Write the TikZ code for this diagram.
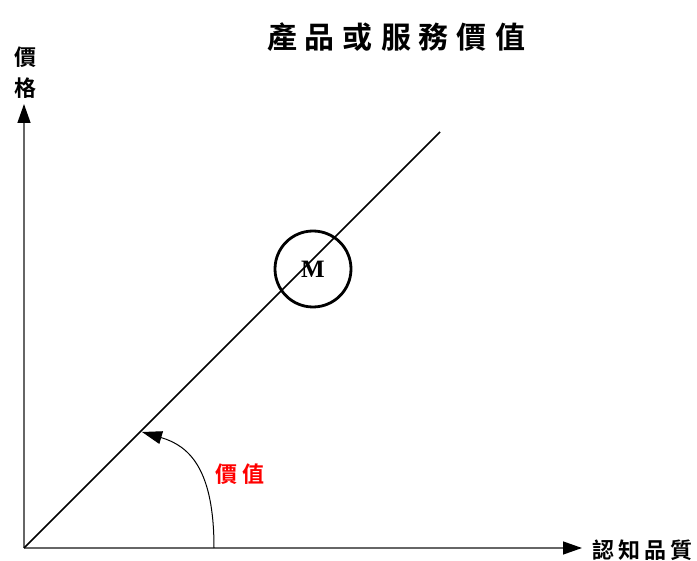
\documentclass[tikz,border=0pt]{standalone}
\usepackage{fontspec}
\setmainfont{Liberation Serif}
\newfontfamily\cjk{Noto Sans CJK TC}[BoldFont={* Bold}]
\usetikzlibrary{arrows.meta}
\tikzset{
  axis/.style={draw=black!60, line width=1.3pt, -{Triangle[length=19pt,width=13pt,color=black]}},
  cjklab/.style={font=\cjk\bfseries, inner sep=0pt},
}
\begin{document}
\begin{tikzpicture}[x=1pt,y=-1pt]
\useasboundingbox (0,0) rectangle (697,561);
\coordinate (O) at (24,548);
\coordinate (Y) at (24,104);
\coordinate (X) at (582,548);
\coordinate (D) at (440,132);
\coordinate (A0) at (214,548);
\coordinate (A1) at (142,432);
\draw[axis] (O) -- (Y);
\draw[axis] (O) -- (X);
\draw[line width=1.7pt] (O) -- (D);
\node[draw, circle, line width=2.8pt, minimum size=76pt, inner sep=0pt,
      font=\fontsize{25}{25}\selectfont\bfseries] (M) at (313,269) {M};
\draw[line width=1pt, -{Triangle[length=20pt,width=13pt]}]
  (A0) .. controls (214,470) and (190,446) .. (A1);
\node[cjklab, font=\cjk\bfseries\fontsize{30}{30}\selectfont, anchor=center] (title) at (396,37)
  {產\kern8pt 品\kern8pt 或\kern8pt 服\kern8pt 務\kern8pt 價\kern8pt 值};
\node[cjklab, font=\cjk\bfseries\fontsize{22}{22}\selectfont] (y1) at (25,57) {價};
\node[cjklab, font=\cjk\bfseries\fontsize{22}{22}\selectfont] (y2) at (25,88) {格};
\node[cjklab, font=\cjk\bfseries\fontsize{22}{22}\selectfont, text=red] (v) at (240,474) {價\kern5pt 值};
\node[cjklab, font=\cjk\bfseries\fontsize{22}{22}\selectfont, anchor=west] (xl) at (592,550)
  {認\kern4pt 知\kern4pt 品\kern4pt 質};
\end{tikzpicture}
\end{document}
